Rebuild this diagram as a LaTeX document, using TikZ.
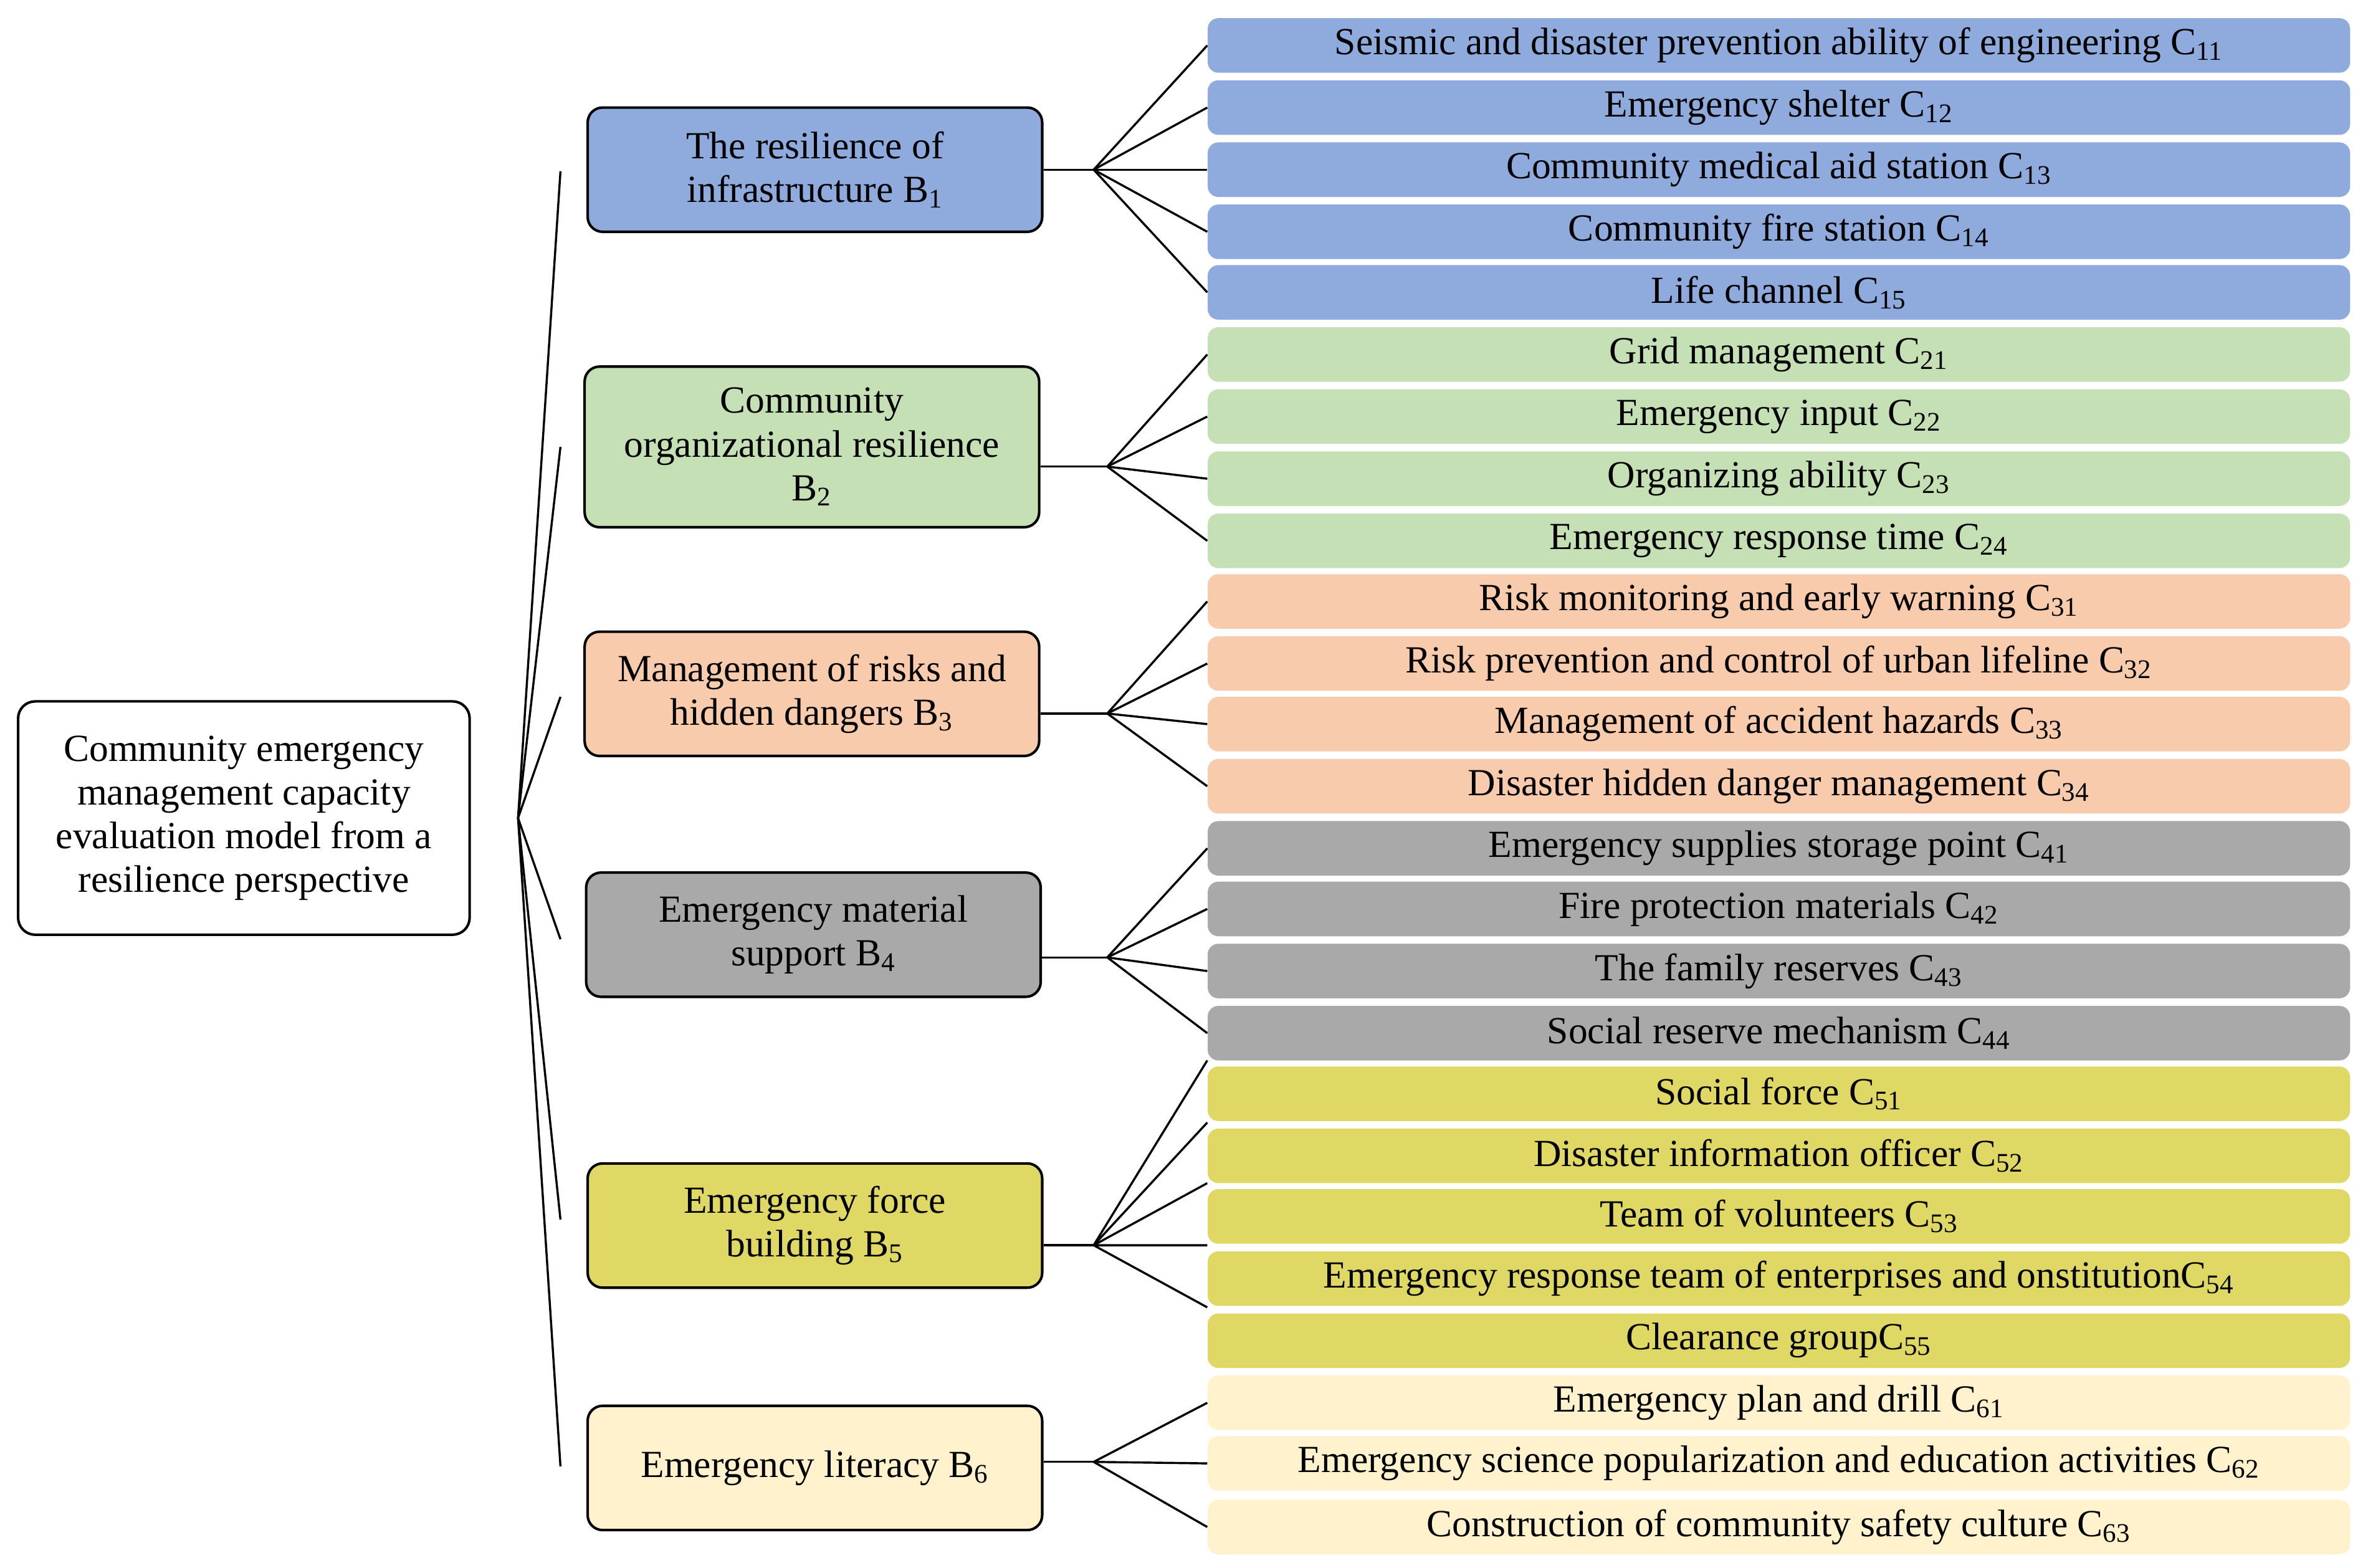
\documentclass[tikz,border=0pt]{standalone}
\usepackage{fontspec}
\setmainfont{Liberation Serif}
\begin{document}
\begin{tikzpicture}[x=0.025cm,y=-0.025cm,
 every node/.style={font=\fontsize{18}{20.5}\selectfont},
 leaf/.style={rounded corners=5pt,minimum width=18.85cm,minimum height=0.9cm,inner sep=0pt,anchor=west},
 bb/.style={draw,rounded corners=7pt,line width=1.2pt,minimum width=7.5cm,minimum height=2.05cm,align=center,inner sep=2pt},
 ln/.style={line width=1pt}]
\useasboundingbox (0,0) rectangle (1560,1035);
\definecolor{cb}{HTML}{8FAADC}\definecolor{cg}{HTML}{C5E0B4}\definecolor{co}{HTML}{F8CBAD}
\definecolor{cy}{HTML}{A9A9A9}\definecolor{cl}{HTML}{E0D865}\definecolor{cp}{HTML}{FFF2CC}
\node[draw,rounded corners=8pt,line width=1.2pt,minimum width=7.45cm,minimum height=3.85cm,align=center,inner sep=1pt] (A) at (161,540) {Community emergency\\management capacity\\evaluation model from a\\resilience perspective};
\node[bb,fill=cb] (B1) at (538,112) {The resilience of\\infrastructure B\textsubscript{1}};
\node[bb,fill=cg,minimum height=2.65cm] (B2) at (536,295) {Community\\organizational resilience\\B\textsubscript{2}};
\node[bb,fill=co] (B3) at (536,458) {Management of risks and\\hidden dangers B\textsubscript{3}};
\node[bb,fill=cy] (B4) at (537,617) {Emergency material\\support B\textsubscript{4}};
\node[bb,fill=cl] (B5) at (538,809) {Emergency force\\building B\textsubscript{5}};
\node[bb,fill=cp] (B6) at (538,969) {Emergency literacy B\textsubscript{6}};
\foreach \n/\y/\c/\t in {
11/30/cb/Seismic and disaster prevention ability of engineering C\textsubscript{11},
12/71/cb/Emergency shelter C\textsubscript{12},
13/112/cb/Community medical aid station C\textsubscript{13},
14/153/cb/Community fire station C\textsubscript{14},
15/193/cb/Life channel C\textsubscript{15},
21/234/cg/Grid management C\textsubscript{21},
22/275/cg/Emergency input C\textsubscript{22},
23/316/cg/Organizing ability C\textsubscript{23},
24/357/cg/Emergency response time C\textsubscript{24},
31/397/co/Risk monitoring and early warning C\textsubscript{31},
32/438/co/Risk prevention and control of urban lifeline C\textsubscript{32},
33/478/co/Management of accident hazards C\textsubscript{33},
34/519/co/Disaster hidden danger management C\textsubscript{34},
41/560/cy/Emergency supplies storage point C\textsubscript{41},
42/600/cy/Fire protection materials C\textsubscript{42},
43/641/cy/The family reserves C\textsubscript{43},
44/682/cy/Social reserve mechanism C\textsubscript{44},
51/722/cl/Social force C\textsubscript{51},
52/763/cl/Disaster information officer C\textsubscript{52},
53/803/cl/Team of volunteers C\textsubscript{53},
54/844/cl/Emergency response team of enterprises and onstitutionC\textsubscript{54},
55/885/cl/Clearance groupC\textsubscript{55},
61/926/cp/Emergency plan and drill C\textsubscript{61},
62/966/cp/Emergency science popularization and education activities C\textsubscript{62},
63/1008/cp/Construction of community safety culture C\textsubscript{63}}
{\node[leaf,fill=\c] (C\n) at (797,\y) {\t};}
% root fan
\coordinate (R) at (342,540);
\foreach \y/\i in {113/1,295/2,460/3,620/4,805/5,968/6} {\coordinate (r\i) at (370,\y); \draw[ln] (R) -- (r\i);}
% B fans
\coordinate (F1) at (722,112);\coordinate (F2) at (731,308);\coordinate (F3) at (731,471);
\coordinate (F4) at (731,632);\coordinate (F5) at (722,822);\coordinate (F6) at (722,965);
\draw[ln] (B1.east|-F1) -- (F1); \draw[ln] (B2.east|-F2) -- (F2); \draw[ln] (B3.east|-F3) -- (F3);
\draw[ln] (B4.east|-F4) -- (F4); \draw[ln] (B5.east|-F5) -- (F5); \draw[ln] (B6.east|-F6) -- (F6);
\foreach \n in {11,12,13,14,15} \draw[ln] (F1) -- (C\n.west);
\foreach \n in {21,22,23,24} \draw[ln] (F2) -- (C\n.west);
\foreach \n in {31,32,33,34} \draw[ln] (F3) -- (C\n.west);
\foreach \n in {41,42,43,44} \draw[ln] (F4) -- (C\n.west);
\foreach \n in {51,52,53,54,55} \draw[ln] (F5) -- ([yshift=0.55cm]C\n.west);
\foreach \n in {61,62,63} \draw[ln] (F6) -- (C\n.west);
\end{tikzpicture}
\end{document}
